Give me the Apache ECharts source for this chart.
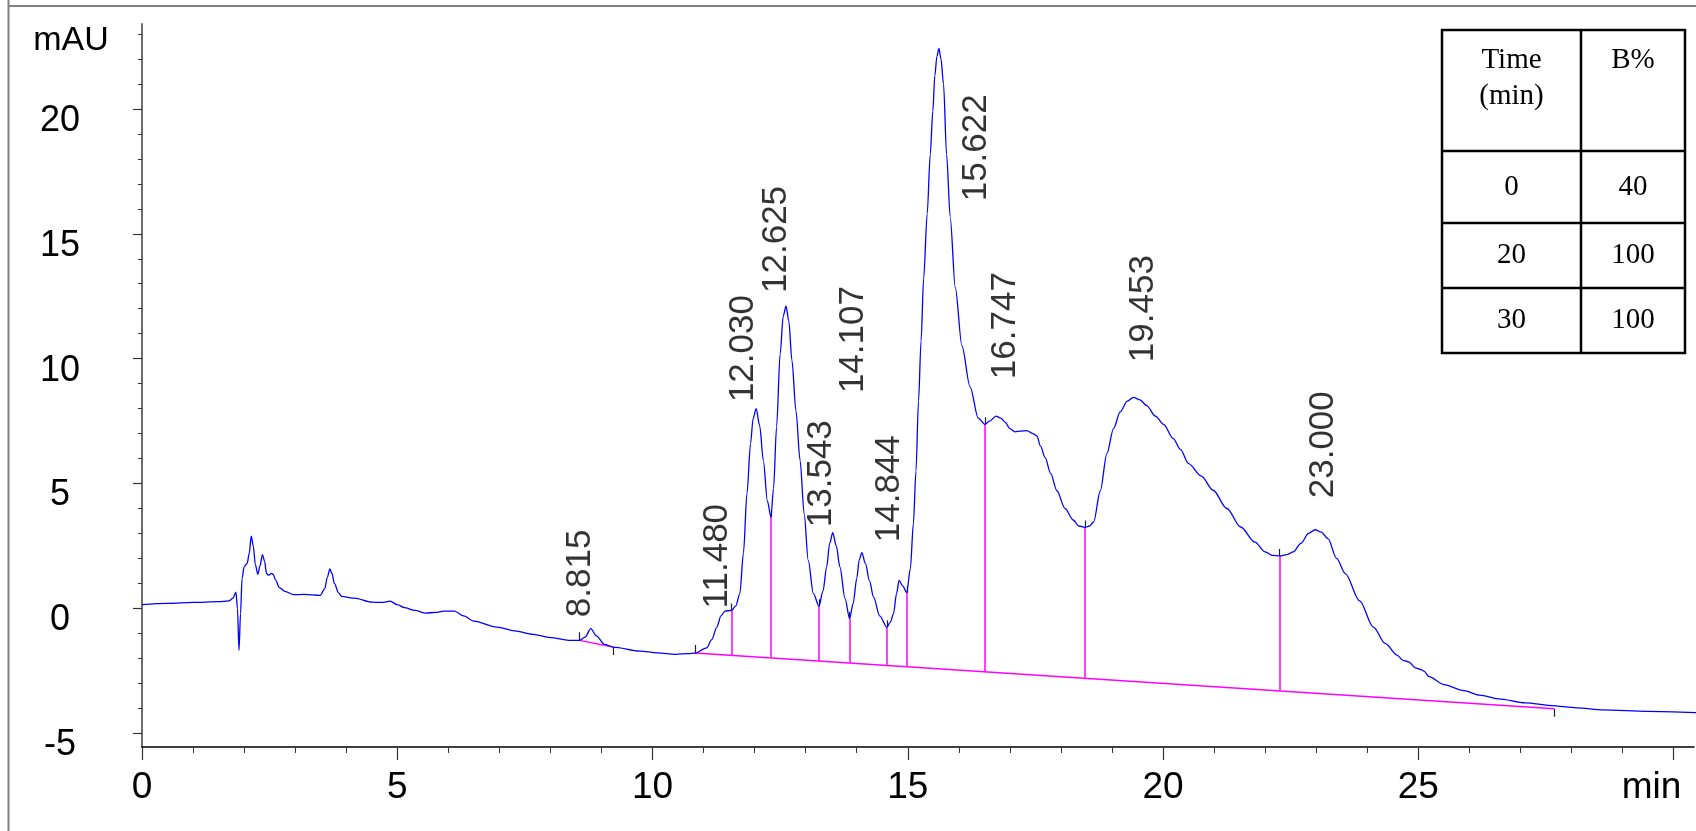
<!DOCTYPE html>
<html>
    <head>
        <meta charset="UTF-8">
        <title>Chromatogram</title>
        <style>
            html, body { margin: 0; padding: 0; background: #fff; }
            #main { width: 1696px; height: 831px; }
        </style>
        <script src="https://cdn.jsdelivr.net/npm/echarts@6/dist/echarts.min.js"></script>
    </head>
    <body>
        <div id="main"></div>
    </body>
    <script>
        // 色谱曲线 (min, mAU)
        var traceTime = [0.00, 0.50, 1.00, 1.50, 1.70, 1.78, 1.84, 1.87, 1.90, 1.93, 1.96, 2.00, 2.06, 2.10, 2.14, 2.18, 2.22, 2.27, 2.31, 2.36,
            2.40, 2.44, 2.48, 2.54, 2.57, 2.62, 2.69, 2.80, 2.97, 3.18, 3.49, 3.58, 3.63, 3.68, 3.72, 3.77, 3.85, 3.91, 4.16, 4.50,
            4.70, 4.86, 5.00, 5.14, 5.35, 5.56, 5.75, 5.91, 6.12, 6.30, 6.50, 6.95, 7.30, 7.66, 8.00, 8.36, 8.57, 8.68, 8.79, 8.90,
            9.06, 9.23, 9.75, 10.10, 10.45, 10.70, 10.83, 11.06, 11.16, 11.26, 11.34, 11.42, 11.55, 11.63, 11.71, 11.78, 11.85, 11.92, 11.97, 12.03,
            12.10, 12.17, 12.25, 12.32, 12.37, 12.43, 12.50, 12.56, 12.615, 12.67, 12.73, 12.81, 12.89, 12.97, 13.05, 13.15, 13.26, 13.34, 13.41, 13.47,
            13.53, 13.60, 13.67, 13.77, 13.86, 13.93, 14.00, 14.05, 14.10, 14.17, 14.25, 14.33, 14.45, 14.59, 14.66, 14.72, 14.78, 14.83, 14.90, 14.98,
            15.05, 15.11, 15.16, 15.21, 15.26, 15.31, 15.38, 15.44, 15.49, 15.53, 15.57, 15.61, 15.65, 15.70, 15.76, 15.83, 15.93, 16.06, 16.22, 16.38,
            16.51, 16.60, 16.73, 16.82, 16.91, 17.00, 17.10, 17.20, 17.33, 17.45, 17.53, 17.60, 17.69, 17.80, 17.92, 18.08, 18.24, 18.35, 18.47, 18.56,
            18.64, 18.77, 18.90, 19.03, 19.16, 19.30, 19.42, 19.55, 19.68, 19.85, 20.01, 20.20, 20.34, 20.50, 20.75, 20.98, 21.25, 21.52, 21.80, 22.00,
            22.15, 22.28, 22.42, 22.55, 22.70, 22.85, 22.98, 23.10, 23.23, 23.40, 23.57, 23.85, 24.12, 24.35, 24.59, 24.70, 24.82, 24.94, 25.05, 25.11,
            25.21, 25.50, 25.89, 26.20, 26.57, 27.10, 27.60, 28.10, 28.62, 29.50, 30.44];
        var traceValue = [0.15, 0.20, 0.24, 0.27, 0.30, 0.40, 0.65, 0.00, -1.68, -0.20, 1.20, 1.66, 1.80, 2.20, 2.89, 2.50, 1.75, 1.36, 1.70, 2.15,
            1.90, 1.39, 1.33, 1.40, 1.36, 1.12, 0.83, 0.68, 0.55, 0.56, 0.52, 0.79, 1.25, 1.58, 1.40, 0.99, 0.62, 0.48, 0.41, 0.25,
            0.24, 0.29, 0.15, 0.03, -0.08, -0.19, -0.16, -0.11, -0.11, -0.30, -0.51, -0.75, -0.90, -1.04, -1.17, -1.28, -1.28, -1.15, -0.81, -1.10,
            -1.44, -1.55, -1.71, -1.78, -1.84, -1.81, -1.79, -1.58, -1.25, -0.75, -0.30, -0.11, -0.08, 0.10, 0.59, 2.20, 4.60, 6.60, 7.60, 8.00,
            7.30, 5.93, 4.30, 3.66, 4.80, 7.27, 10.20, 11.70, 12.10, 11.50, 9.94, 7.90, 5.93, 3.80, 1.92, 0.60, 0.09, 0.70, 1.66, 2.60,
            3.03, 2.50, 1.66, 0.40, -0.41, 0.20, 1.20, 1.95, 2.23, 1.80, 1.10, 0.45, -0.30, -0.75, -0.55, -0.21, 0.60, 1.12, 0.90, 0.63,
            1.60, 3.40, 5.50, 8.30, 10.70, 13.19, 15.80, 18.18, 19.90, 21.34, 22.10, 22.42, 22.00, 21.00, 18.18, 15.68, 12.85, 10.52, 8.87, 7.62,
            7.37, 7.50, 7.70, 7.62, 7.45, 7.20, 7.07, 7.10, 7.12, 7.00, 6.90, 6.50, 6.04, 5.40, 4.71, 4.00, 3.54, 3.30, 3.24, 3.30,
            3.46, 4.70, 6.20, 7.20, 7.87, 8.30, 8.45, 8.35, 8.12, 7.70, 7.37, 6.80, 6.37, 5.80, 5.30, 4.73, 4.00, 3.26, 2.65, 2.26,
            2.12, 2.10, 2.15, 2.26, 2.60, 3.00, 3.15, 3.05, 2.79, 2.00, 1.39, 0.30, -0.75, -1.40, -1.88, -2.08, -2.15, -2.38, -2.45, -2.51,
            -2.73, -3.05, -3.29, -3.47, -3.62, -3.78, -3.89, -3.98, -4.06, -4.12, -4.17];

        // 积分基线 (起点, 终点)
        var baseStartT = [8.57, 10.83];
        var baseStartV = [-1.28, -1.79];
        var baseEndT = [9.23, 27.66];
        var baseEndV = [-1.55, -4.02];

        // 峰分割线
        var dropT = [11.55, 12.32, 13.26, 13.86, 14.59, 14.98, 16.51, 18.47, 22.28];
        var dropBottom = [-1.88, -1.98, -2.12, -2.19, -2.26, -2.32, -2.53, -2.78, -3.29];
        var dropTop = [-0.08, 3.66, 0.09, -0.41, -0.75, 0.63, 7.37, 3.24, 2.10];

        // 峰标签
        var peakNames = ['8.815', '11.480', '12.030', '12.625', '13.543', '14.107', '14.844', '15.622', '16.747', '19.453', '23.000'];
        var labelT = [8.58, 11.27, 11.78, 12.43, 13.30, 13.93, 14.64, 16.35, 16.92, 19.62, 23.14];
        var labelV = [-0.35, 0.00, 8.26, 12.63, 3.25, 8.62, 2.65, 16.30, 9.18, 9.86, 4.41];

        // 刻度
        var xMajorTicks = [0, 5, 10, 15, 20, 25, 30];
        var yMajorTicks = [-5, 0, 5, 10, 15, 20];

        // 梯度表
        var gradHeader = ['Time\n(min)', 'B%'];
        var gradTime = ['0', '20', '30'];
        var gradB = ['40', '100', '100'];

        var X_MIN = 0, X_MAX = 30.4, Y_MIN = -5.55, Y_MAX = 23.4;
        var SANS = 'Liberation Sans, Arial, sans-serif';
        var SERIF = 'Liberation Serif, Times New Roman, serif';

        var xMinorTicks = [], yMinorTicks = [];
        for (var i = 0; i <= 30; i++) xMinorTicks.push(i);
        for (var j = -5; j <= 23; j++) yMinorTicks.push(j);

        var trace = traceTime.map(function (t, k) { return [t, traceValue[k]]; });

        var magentaSegs = [];
        baseStartT.forEach(function (t, k) {
            magentaSegs.push({ coords: [[t, baseStartV[k]], [baseEndT[k], baseEndV[k]]] });
        });
        dropT.forEach(function (t, k) {
            magentaSegs.push({ coords: [[t, dropBottom[k]], [t, dropTop[k]]] });
        });

        // 峰起止小刻度
        var blackSegs = [
            { coords: [[baseStartT[0], baseStartV[0]], [baseStartT[0], baseStartV[0] + 0.32]] },
            { coords: [[baseEndT[0], baseEndV[0]], [baseEndT[0], baseEndV[0] - 0.32]] },
            { coords: [[baseStartT[1], baseStartV[1]], [baseStartT[1], baseStartV[1] + 0.32]] },
            { coords: [[baseEndT[1], baseEndV[1]], [baseEndT[1], baseEndV[1] - 0.32]] }
        ];
        dropT.forEach(function (t, k) {
            blackSegs.push({ coords: [[t, dropTop[k]], [t, dropTop[k] + 0.28]] });
        });

        var peakLabels = peakNames.map(function (n, k) {
            return { name: n, value: [labelT[k], labelV[k]] };
        });

        // 表格
        var tblX = [1442, 1581, 1685];
        var tblY = [30, 151, 223, 288, 353];
        var graphics = [
            { type: 'line', shape: { x1: 8.5, y1: 0, x2: 8.5, y2: 831 }, style: { stroke: '#808080', lineWidth: 2 } },
            { type: 'line', shape: { x1: 8, y1: 6, x2: 1696, y2: 6 }, style: { stroke: '#808080', lineWidth: 2 } },
            { type: 'rect', shape: { x: tblX[0], y: tblY[0], width: tblX[2] - tblX[0], height: tblY[4] - tblY[0] },
                style: { fill: '#fff', stroke: '#000', lineWidth: 2.5 } },
            { type: 'line', shape: { x1: tblX[1], y1: tblY[0], x2: tblX[1], y2: tblY[4] }, style: { stroke: '#000', lineWidth: 2.5 } }
        ];
        for (var r = 1; r < 4; r++) {
            graphics.push({ type: 'line', shape: { x1: tblX[0], y1: tblY[r], x2: tblX[2], y2: tblY[r] }, style: { stroke: '#000', lineWidth: 2.5 } });
        }
        var c1 = (tblX[0] + tblX[1]) / 2, c2 = (tblX[1] + tblX[2]) / 2;
        graphics.push({ type: 'text', x: c1, y: 78, style: { text: gradHeader[0], font: '29px ' + SERIF, fill: '#000', align: 'center', verticalAlign: 'middle', lineHeight: 36 } });
        graphics.push({ type: 'text', x: c2, y: 60, style: { text: gradHeader[1], font: '29px ' + SERIF, fill: '#000', align: 'center', verticalAlign: 'middle' } });
        for (var q = 0; q < 3; q++) {
            var cy = (tblY[q + 1] + tblY[q + 2]) / 2;
            graphics.push({ type: 'text', x: c1, y: cy, style: { text: gradTime[q], font: '29px ' + SERIF, fill: '#000', align: 'center', verticalAlign: 'middle' } });
            graphics.push({ type: 'text', x: c2, y: cy, style: { text: gradB[q], font: '29px ' + SERIF, fill: '#000', align: 'center', verticalAlign: 'middle' } });
        }

        var option = {
            animation: false,
            backgroundColor: '#fff',
            grid: { left: 142, right: 2, top: 24, bottom: 84, containLabel: false },
            xAxis: [
                {
                    type: 'value', min: X_MIN, max: X_MAX,
                    axisLine: { show: true, onZero: false, lineStyle: { color: '#000', width: 1.5 } },
                    axisTick: { show: true, length: 13, customValues: xMajorTicks, lineStyle: { color: '#333', width: 1.2 } },
                    axisLabel: {
                        customValues: xMajorTicks, margin: 22, fontSize: 37, fontFamily: SANS, color: '#000',
                        formatter: function (v) { return v === 30 ? '{u|min}' : String(v); },
                        rich: { u: { fontSize: 37, fontFamily: SANS, color: '#000', padding: [0, 44, 0, 0] } }
                    },
                    splitLine: { show: false }
                },
                {
                    type: 'value', min: X_MIN, max: X_MAX, position: 'bottom',
                    axisLine: { show: false, onZero: false },
                    axisTick: { show: true, length: 6, customValues: xMinorTicks, lineStyle: { color: '#333', width: 1 } },
                    axisLabel: { show: false },
                    splitLine: { show: false }
                }
            ],
            yAxis: [
                {
                    type: 'value', min: Y_MIN, max: Y_MAX,
                    name: 'mAU', nameLocation: 'end', nameGap: 0,
                    nameTextStyle: { fontSize: 34, fontFamily: SANS, color: '#000', align: 'center', verticalAlign: 'top', padding: [0, 142, 0, 0] },
                    axisLine: { show: true, onZero: false, lineStyle: { color: '#6e6e6e', width: 2 } },
                    axisTick: { show: true, length: 9, customValues: yMajorTicks, lineStyle: { color: '#333', width: 1.2 } },
                    axisLabel: {
                        customValues: yMajorTicks, margin: 82, align: 'center', verticalAlign: 'top',
                        lineHeight: 24, fontSize: 36, fontFamily: SANS, color: '#000'
                    },
                    splitLine: { show: false }
                },
                {
                    type: 'value', min: Y_MIN, max: Y_MAX, position: 'left',
                    axisLine: { show: false, onZero: false },
                    axisTick: { show: true, length: 4, customValues: yMinorTicks, lineStyle: { color: '#333', width: 1 } },
                    axisLabel: { show: false },
                    splitLine: { show: false }
                }
            ],
            series: [
                {
                    type: 'lines', coordinateSystem: 'cartesian2d', xAxisIndex: 0, yAxisIndex: 0,
                    data: magentaSegs, silent: true,
                    lineStyle: { color: '#ff00ff', width: 1.5, opacity: 1 }
                },
                {
                    type: 'lines', coordinateSystem: 'cartesian2d', xAxisIndex: 0, yAxisIndex: 0,
                    data: blackSegs, silent: true,
                    lineStyle: { color: '#222', width: 1.2, opacity: 1 }
                },
                {
                    type: 'line', xAxisIndex: 0, yAxisIndex: 0, data: trace,
                    showSymbol: false, smooth: 0.3, smoothMonotone: 'x',
                    lineStyle: { color: '#0000ff', width: 1.3 }, silent: true, z: 3
                },
                {
                    type: 'scatter', xAxisIndex: 0, yAxisIndex: 0, data: peakLabels,
                    symbolSize: 0.1, itemStyle: { color: 'rgba(0,0,0,0)' }, silent: true, z: 5,
                    labelLayout: { hideOverlap: false },
                    label: {
                        show: true, position: 'inside', rotate: 90, align: 'left', verticalAlign: 'middle',
                        formatter: '{b}', fontSize: 35, fontFamily: SANS, color: '#000'
                    }
                }
            ],
            graphic: graphics
        };

        var chart = echarts.init(document.getElementById('main'));
        chart.setOption(option);
    </script>
</html>
